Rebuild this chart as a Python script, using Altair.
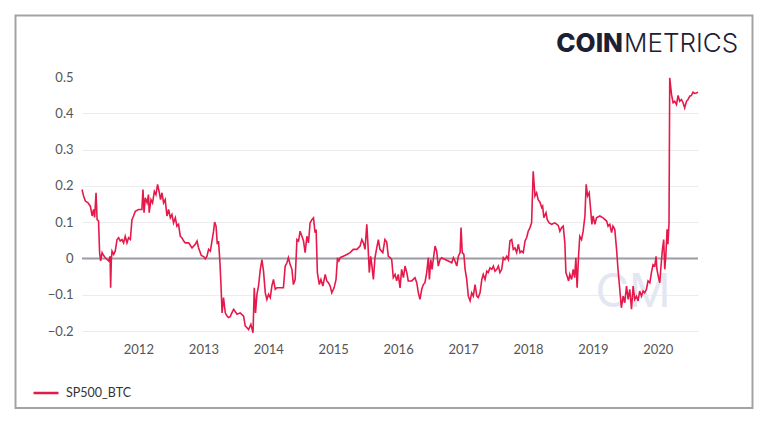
import altair as alt
import pandas as pd

SERIES = "SP500_BTC"

# decimal-year positions
years = [
    2011.134, 2011.158, 2011.185, 2011.226, 2011.262, 2011.288, 2011.312, 2011.328, 2011.349, 2011.365,
    2011.389, 2011.405, 2011.420, 2011.442, 2011.466, 2011.492, 2011.518, 2011.543, 2011.565, 2011.574,
    2011.585, 2011.595, 2011.620, 2011.646, 2011.672, 2011.697, 2011.723, 2011.749, 2011.774, 2011.800,
    2011.826, 2011.851, 2011.877, 2011.903, 2011.928, 2011.954, 2012.005, 2012.057, 2012.072, 2012.088,
    2012.108, 2012.134, 2012.158, 2012.169, 2012.195, 2012.220, 2012.246, 2012.272, 2012.297, 2012.323,
    2012.343, 2012.365, 2012.389, 2012.415, 2012.442, 2012.466, 2012.492, 2012.518, 2012.543, 2012.569,
    2012.595, 2012.620, 2012.646, 2012.672, 2012.697, 2012.723, 2012.774, 2012.826, 2012.877, 2012.903,
    2012.928, 2012.969, 2013.005, 2013.031, 2013.057, 2013.082, 2013.108, 2013.134, 2013.158, 2013.174,
    2013.195, 2013.215, 2013.235, 2013.257, 2013.272, 2013.288, 2013.312, 2013.338, 2013.365, 2013.389,
    2013.415, 2013.441, 2013.466, 2013.518, 2013.569, 2013.620, 2013.646, 2013.672, 2013.697, 2013.734,
    2013.765, 2013.785, 2013.805, 2013.826, 2013.851, 2013.877, 2013.903, 2013.928, 2013.954, 2013.980,
    2014.005, 2014.031, 2014.057, 2014.082, 2014.108, 2014.134, 2014.185, 2014.235, 2014.262, 2014.288,
    2014.312, 2014.338, 2014.365, 2014.389, 2014.415, 2014.442, 2014.466, 2014.492, 2014.518, 2014.543,
    2014.569, 2014.595, 2014.620, 2014.646, 2014.672, 2014.697, 2014.723, 2014.738, 2014.758, 2014.789,
    2014.811, 2014.842, 2014.877, 2014.903, 2014.928, 2014.954, 2014.980, 2015.015, 2015.046, 2015.066,
    2015.088, 2015.108, 2015.158, 2015.211, 2015.262, 2015.312, 2015.365, 2015.415, 2015.442, 2015.466,
    2015.492, 2015.518, 2015.538, 2015.558, 2015.580, 2015.600, 2015.620, 2015.646, 2015.672, 2015.697,
    2015.723, 2015.765, 2015.800, 2015.826, 2015.851, 2015.877, 2015.903, 2015.928, 2015.954, 2015.980,
    2016.005, 2016.031, 2016.057, 2016.082, 2016.108, 2016.134, 2016.158, 2016.211, 2016.262, 2016.288,
    2016.312, 2016.338, 2016.365, 2016.389, 2016.415, 2016.442, 2016.466, 2016.482, 2016.503, 2016.523,
    2016.543, 2016.569, 2016.595, 2016.620, 2016.646, 2016.672, 2016.723, 2016.774, 2016.826, 2016.851,
    2016.877, 2016.903, 2016.928, 2016.954, 2016.969, 2016.989, 2017.011, 2017.031, 2017.057, 2017.082,
    2017.108, 2017.134, 2017.158, 2017.185, 2017.211, 2017.235, 2017.262, 2017.288, 2017.312, 2017.338,
    2017.365, 2017.389, 2017.415, 2017.442, 2017.466, 2017.492, 2017.518, 2017.543, 2017.569, 2017.595,
    2017.620, 2017.646, 2017.672, 2017.697, 2017.723, 2017.749, 2017.774, 2017.800, 2017.826, 2017.851,
    2017.877, 2017.903, 2017.928, 2017.954, 2017.980, 2018.005, 2018.031, 2018.057, 2018.082, 2018.108,
    2018.134, 2018.158, 2018.185, 2018.211, 2018.226, 2018.246, 2018.277, 2018.297, 2018.328, 2018.365,
    2018.415, 2018.466, 2018.492, 2018.518, 2018.543, 2018.569, 2018.585, 2018.605, 2018.626, 2018.646,
    2018.672, 2018.697, 2018.718, 2018.738, 2018.758, 2018.780, 2018.800, 2018.826, 2018.851, 2018.877,
    2018.897, 2018.918, 2018.943, 2018.965, 2018.985, 2019.005, 2019.031, 2019.057, 2019.108, 2019.158,
    2019.211, 2019.235, 2019.262, 2019.288, 2019.312, 2019.338, 2019.365, 2019.389, 2019.415, 2019.441,
    2019.466, 2019.492, 2019.518, 2019.543, 2019.569, 2019.595, 2019.620, 2019.646, 2019.672, 2019.697,
    2019.723, 2019.749, 2019.774, 2019.800, 2019.826, 2019.851, 2019.877, 2019.903, 2019.928, 2019.954,
    2019.974, 2019.989, 2020.011, 2020.031, 2020.051, 2020.072, 2020.092, 2020.108, 2020.123, 2020.143,
    2020.158, 2020.174, 2020.185, 2020.211, 2020.235, 2020.262, 2020.288, 2020.312, 2020.338, 2020.365,
    2020.389, 2020.415, 2020.442, 2020.466, 2020.492, 2020.518, 2020.543, 2020.569, 2020.595, 2020.620,
]

values = [
    0.190, 0.172, 0.158, 0.153, 0.144, 0.117, 0.135, 0.113, 0.181, 0.107,
    0.103, 0.016, -0.007, 0.016, 0.008, 0.002, -0.003, -0.007, 0.006, -0.081,
    -0.003, 0.020, 0.011, 0.020, 0.052, 0.057, 0.048, 0.052, 0.043, 0.061,
    0.043, 0.057, 0.052, 0.107, 0.117, 0.130, 0.135, 0.135, 0.190, 0.126,
    0.167, 0.153, 0.176, 0.126, 0.162, 0.153, 0.185, 0.176, 0.204, 0.181,
    0.162, 0.181, 0.153, 0.162, 0.117, 0.135, 0.112, 0.121, 0.098, 0.112,
    0.089, 0.094, 0.061, 0.057, 0.048, 0.043, 0.043, 0.029, 0.039, 0.048,
    0.029, 0.008, 0.005, -0.001, 0.006, 0.025, 0.020, 0.048, 0.075, 0.100,
    0.089, 0.039, 0.048, -0.012, -0.076, -0.150, -0.108, -0.150, -0.159, -0.163,
    -0.160, -0.150, -0.140, -0.154, -0.150, -0.159, -0.186, -0.191, -0.196, -0.182,
    -0.205, -0.081, -0.150, -0.099, -0.076, -0.030, -0.003, -0.035, -0.095, -0.113,
    -0.099, -0.108, -0.076, -0.058, -0.085, -0.081, -0.081, -0.081, -0.021, -0.012,
    0.002, -0.017, -0.030, -0.072, -0.058, 0.052, 0.048, 0.075, 0.061, 0.048,
    0.016, 0.061, 0.043, 0.098, 0.107, 0.112, 0.071, 0.080, -0.039, -0.072,
    -0.058, -0.076, -0.044, -0.062, -0.067, -0.076, -0.095, -0.081, -0.058, 0.002,
    -0.007, 0.002, 0.006, 0.011, 0.016, 0.025, 0.025, 0.034, 0.052, 0.043,
    0.025, 0.094, 0.034, -0.039, 0.006, -0.021, -0.058, 0.002, 0.029, 0.052,
    0.025, 0.016, 0.052, 0.045, 0.006, 0.002, -0.003, -0.053, -0.044, -0.062,
    -0.044, -0.081, -0.030, -0.053, -0.021, -0.039, -0.062, -0.062, -0.053, -0.067,
    -0.095, -0.113, -0.085, -0.072, -0.067, -0.039, 0.002, -0.058, -0.003, -0.030,
    -0.003, 0.034, 0.020, -0.021, -0.003, 0.002, -0.003, -0.007, -0.012, 0.002,
    -0.007, -0.021, 0.006, 0.016, 0.085, 0.016, 0.011, -0.030, -0.058, -0.104,
    -0.117, -0.095, -0.104, -0.072, -0.104, -0.108, -0.095, -0.058, -0.044, -0.058,
    -0.035, -0.039, -0.026, -0.030, -0.021, -0.035, -0.030, -0.021, -0.039, -0.030,
    0.002, -0.003, 0.006, -0.003, 0.048, 0.052, 0.025, 0.029, 0.016, 0.039,
    0.016, 0.020, 0.016, 0.048, 0.057, 0.075, 0.085, 0.098, 0.240, 0.172,
    0.181, 0.162, 0.155, 0.140, 0.144, 0.112, 0.126, 0.107, 0.098, 0.094,
    0.098, 0.091, 0.075, 0.085, 0.089, 0.043, -0.039, -0.049, -0.062, -0.044,
    -0.058, -0.030, -0.053, 0.002, -0.081, 0.006, 0.061, 0.052, 0.075, 0.117,
    0.204, 0.172, 0.181, 0.135, 0.094, 0.117, 0.094, 0.112, 0.117, 0.112,
    0.103, 0.089, 0.094, 0.071, 0.089, 0.080, 0.025, -0.030, -0.085, -0.136,
    -0.104, -0.122, -0.076, -0.113, -0.085, -0.140, -0.076, -0.113, -0.104, -0.117,
    -0.090, -0.104, -0.090, -0.095, -0.085, -0.062, -0.067, -0.039, -0.017, -0.021,
    0.006, -0.030, -0.053, -0.067, -0.021, 0.025, 0.052, -0.030, 0.006, 0.080,
    0.039, 0.098, 0.498, 0.452, 0.429, 0.433, 0.424, 0.449, 0.433, 0.438,
    0.429, 0.415, 0.433, 0.438, 0.447, 0.449, 0.458, 0.455, 0.456, 0.458,
]

y_ticks = [-0.2, -0.1, 0, 0.1, 0.2, 0.3, 0.4, 0.5]
x_tick_years = [2012, 2013, 2014, 2015, 2016, 2017, 2018, 2019, 2020]


def to_date(t):
    y = int(t)
    start = pd.Timestamp(year=y, month=1, day=1)
    end = pd.Timestamp(year=y + 1, month=1, day=1)
    return (start + (end - start) * (t - y)).strftime("%Y-%m-%d")


df = pd.DataFrame({
    "date": [to_date(t) for t in years],
    "value": values,
    "series": SERIES,
})

FONT = "Lato"
RED = "#e6194b"

y_scale = alt.Scale(domain=[-0.2, 0.5], nice=False, zero=False)
y_axis = alt.Axis(
    values=y_ticks, format="~g", domain=False, ticks=False, tickSize=0,
    labelPadding=9, labelFont=FONT, labelFontSize=13, labelColor="#555",
    gridColor="#ececec", gridWidth=1,
    gridOpacity=alt.condition("datum.value > 0.45 || datum.value == 0", alt.value(0), alt.value(1)),
)

zero = alt.Chart(pd.DataFrame({"z": [0]})).mark_rule(color="#9c9ca4", strokeWidth=2).encode(
    y=alt.Y("z:Q", title=None, scale=y_scale, axis=y_axis)
)

line = alt.Chart(df).mark_line(strokeWidth=1.6, clip=False).encode(
    x=alt.X(
        "date:T",
        title=None,
        scale=alt.Scale(nice=False),
        axis=alt.Axis(
            values=[alt.DateTime(year=y, month=1, date=1) for y in x_tick_years],
            format="%Y", grid=False, domain=False, ticks=False, tickSize=0,
            labelPadding=12, labelFont=FONT, labelFontSize=13, labelColor="#555",
        ),
    ),
    y=alt.Y("value:Q", title=None, scale=y_scale, axis=y_axis),
    color=alt.Color(
        "series:N",
        scale=alt.Scale(domain=[SERIES], range=[RED]),
        legend=alt.Legend(
            title=None, orient="none", legendX=-50, legendY=302,
            symbolType="stroke", symbolSize=625, symbolStrokeWidth=2.5,
            labelFont=FONT, labelFontSize=12.5, labelColor="#333",
            labelOffset=6, padding=0,
        ),
    ),
)

watermark = alt.Chart(pd.DataFrame({"t": ["CM"]})).mark_text(
    font="Inter", fontSize=46, fontWeight=400, color="#e3e7f1", align="center", baseline="alphabetic"
).encode(x=alt.value(551), y=alt.value(230), text="t:N")

frame = alt.Chart(pd.DataFrame({"a": [0]})).mark_rect(
    filled=False, stroke="#a3a3a3", strokeWidth=2
).encode(x=alt.value(-66.5), x2=alt.value(670.5), y=alt.value(-61.5), y2=alt.value(331))

logo_coin = alt.Chart(pd.DataFrame({"t": ["COIN"]})).mark_text(
    font="Inter", fontSize=26, fontWeight=800, color="#1d2033", align="right", baseline="alphabetic"
).encode(x=alt.value(541), y=alt.value(-25.5), text="t:N")

logo_metrics = alt.Chart(pd.DataFrame({"t": ["METRICS"]})).mark_text(
    font="Inter", fontSize=26, fontWeight=300, color="#1d2033", align="left", baseline="alphabetic"
).encode(x=alt.value(542), y=alt.value(-25.5), text="t:N")

chart = alt.layer(watermark, zero, line, frame, logo_coin, logo_metrics).properties(
    width=616,
    height=254,
    padding={"left": 74, "top": 69, "right": 62, "bottom": 85},
    autosize=alt.AutoSizeParams(type="none"),
    background="white",
).configure_view(strokeWidth=0)

chart.save("out.html", embed_options={"renderer": "svg", "actions": False})
